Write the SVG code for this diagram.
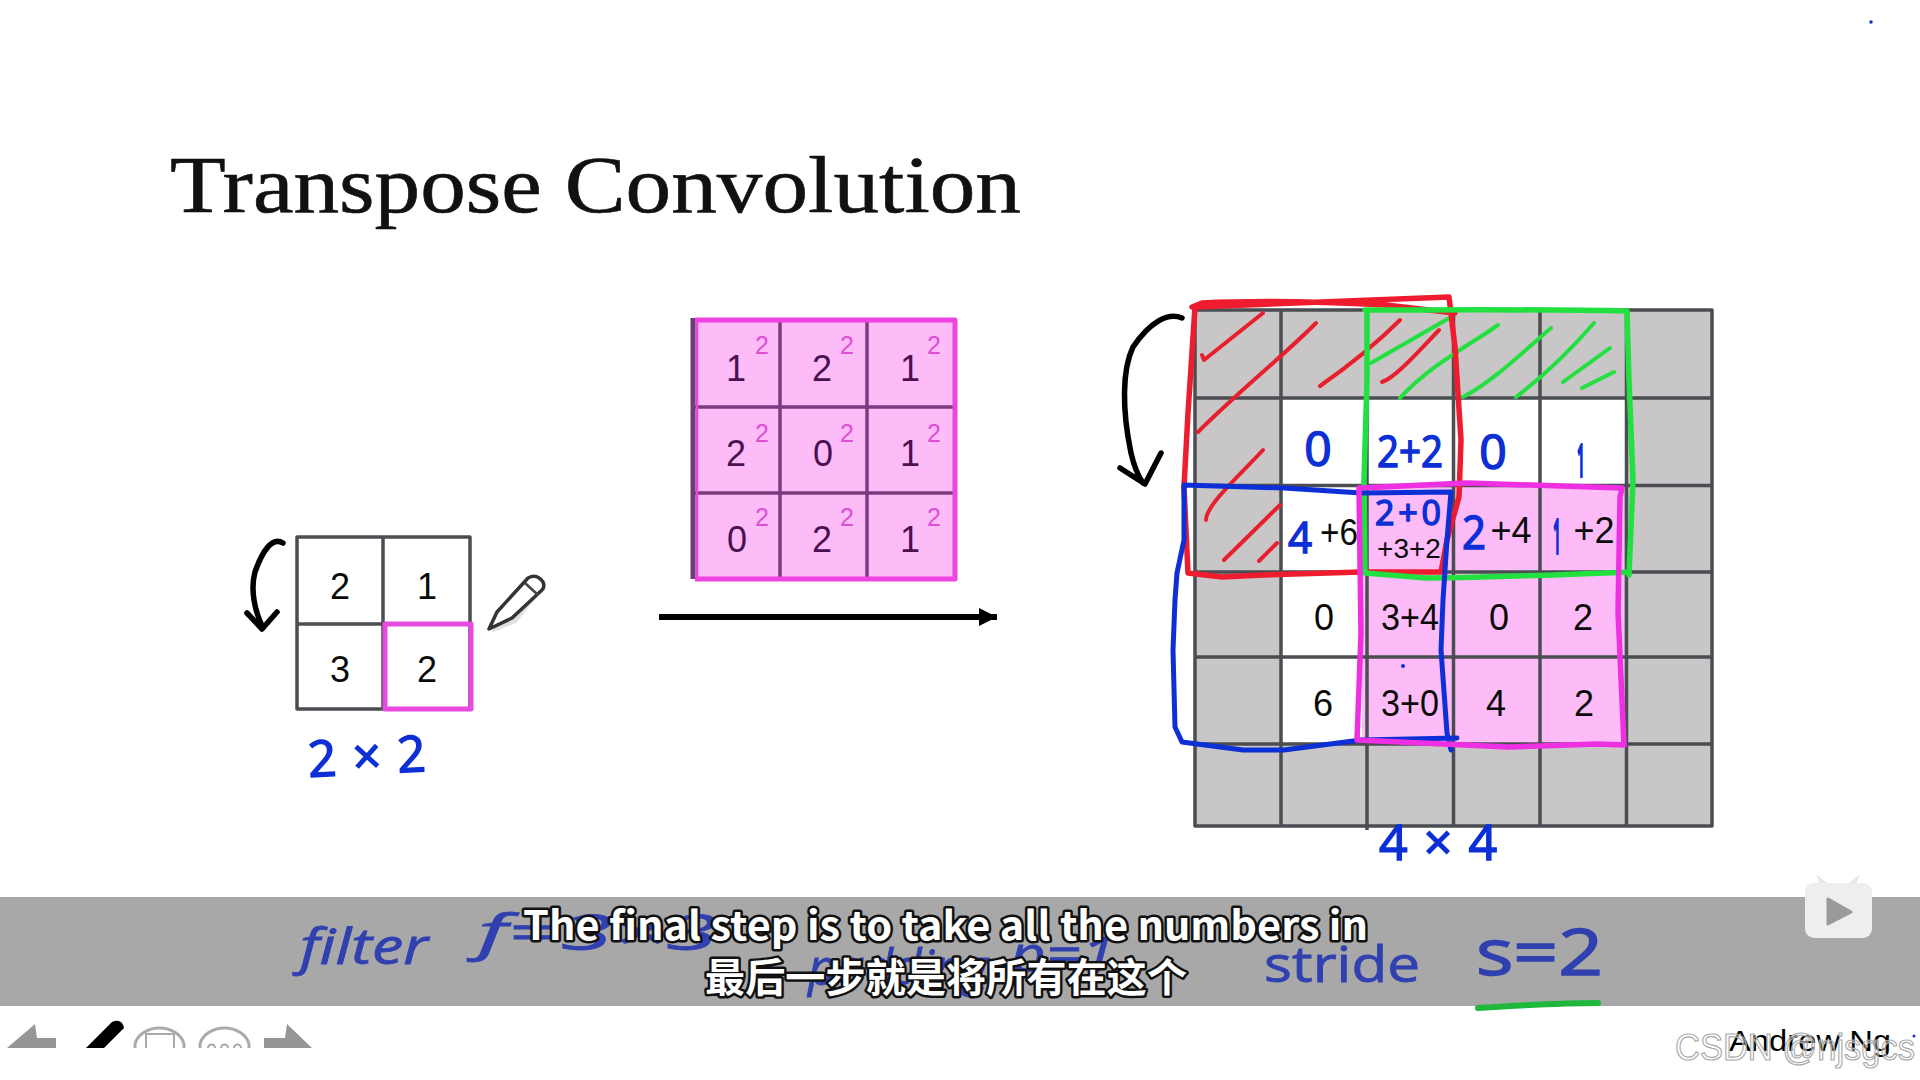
<svg xmlns="http://www.w3.org/2000/svg" width="1920" height="1080" viewBox="0 0 1920 1080">
<defs>
<style>
text{font-family:"Liberation Sans",Arial,sans-serif}
.grid{stroke:#4a4d52;stroke-width:3.5;fill:none;stroke-linejoin:round}
.num{font-size:36px;fill:#0a0a0a;text-anchor:middle}
.mnum{font-size:36px;fill:#4a1050;text-anchor:middle}
.sup{font-size:25px;fill:#dc4fd6;text-anchor:middle}
.hw{font-family:"Open Sans","DejaVu Sans",sans-serif;fill:#0c2fd6;stroke:#0c2fd6;stroke-width:1.5;text-anchor:middle}
.hw1{stroke-width:4}
.dim{font-family:"Open Sans","DejaVu Sans",sans-serif;fill:#3040b0;stroke:#3040b0;stroke-width:.8;font-size:50px;font-style:italic}
.ink{fill:none;stroke-linecap:round;stroke-linejoin:round}
.red{stroke:#ee1c2e;stroke-width:5.5}
.redh{stroke:#e8202e;stroke-width:4}
.grn{stroke:#22e040;stroke-width:5.5}
.grnh{stroke:#22e040;stroke-width:4}
.blu{stroke:#0c2fd6;stroke-width:5}
.mag{stroke:#ee2fe2;stroke-width:5.5}
.blk{stroke:#000;stroke-width:5.5}
.sub{font-family:"Noto Sans CJK SC","Noto Sans",sans-serif;font-weight:700;fill:#fff;stroke:#111;stroke-width:5;paint-order:stroke;stroke-linejoin:round}
.tool{fill:#969696}
</style>
<marker id="ah" markerUnits="userSpaceOnUse" markerWidth="20" markerHeight="20" refX="18" refY="9" orient="auto"><path d="M0 0L18 9L0 18Z" fill="#000"/></marker>
</defs>
<rect width="1920" height="1080" fill="#fff"/>
<text id="title" x="170" y="212" font-size="80" textLength="851" lengthAdjust="spacingAndGlyphs" style="font-family:'Liberation Serif',serif" fill="#111" stroke="#111" stroke-width=".6">Transpose Convolution</text>

<g id="input-grid">
<rect x="297" y="537" width="173" height="172" class="grid" fill="#fff"/>
<path class="grid" d="M383 537V709M297 624H470"/>
<text class="num" x="340" y="599">2</text><text class="num" x="427" y="599">1</text>
<text class="num" x="340" y="682">3</text><text class="num" x="427" y="682">2</text>
<rect x="385" y="624" width="86" height="85" fill="none" stroke="#e84ae0" stroke-width="5" stroke-linejoin="round"/>
</g>
<g id="input-label"><text class="hw" font-size="50" x="367" y="774" textLength="118" lengthAdjust="spacing" transform="rotate(-3 367 760)">2×2</text></g>
<g id="pencil">
<path d="M491 633L500 617L531 583L546 586L516 623Z" fill="#000" opacity=".12"/>
<path d="M489 629L497 612L528 578Q537 573 543 582Q545 587 542 590L512 618Z" fill="#fff" stroke="#333" stroke-width="3.500" stroke-linejoin="round"/>
<path d="M525 583L538 595" stroke="#444" stroke-width="2.500"/>
</g>

<g id="filter-grid">
<rect x="693" y="318" width="262" height="261" fill="#fdbcf8"/>
<path d="M780 318V579M867 318V579M693 407H955M693 493H955" stroke="#7d3a80" stroke-width="3.500" fill="none"/>
<path d="M693 318V579" stroke="#6a4070" stroke-width="5"/>
<path d="M695 320H955V579H695" fill="none" stroke="#ee44e0" stroke-width="5" stroke-linejoin="round"/>
<path d="M697 318V579" stroke="#ee44e0" stroke-width="2.500"/>
<text class="mnum" x="736" y="381">1</text><text class="mnum" x="822" y="381">2</text><text class="mnum" x="910" y="381">1</text>
<text class="mnum" x="736" y="466">2</text><text class="mnum" x="823" y="466">0</text><text class="mnum" x="910" y="466">1</text>
<text class="mnum" x="737" y="552">0</text><text class="mnum" x="822" y="552">2</text><text class="mnum" x="910" y="552">1</text>
<text class="sup" x="762" y="354">2</text><text class="sup" x="847" y="354">2</text><text class="sup" x="934" y="354">2</text>
<text class="sup" x="762" y="442">2</text><text class="sup" x="847" y="442">2</text><text class="sup" x="934" y="442">2</text>
<text class="sup" x="762" y="526">2</text><text class="sup" x="847" y="526">2</text><text class="sup" x="934" y="526">2</text>
</g>

<g id="output-grid">
<rect x="1195" y="310" width="517" height="516" fill="#c8c6c6"/>
<path fill="#fff" d="M1281 398H1627V486H1367V744H1281Z"/>
<rect x="1362" y="487" width="262" height="257" fill="#fdbcf8"/>
<rect x="1195" y="310" width="517" height="516" class="grid"/>
<path class="grid" d="M1281 310V826M1367 310V830M1453.500 310V826M1540 310V826M1626.500 310V826M1195 398H1712M1195 485.500H1712M1195 572H1712M1195 657H1712M1195 744H1712"/>
<g>
<text class="num" x="1339" y="545" textLength="38" lengthAdjust="spacingAndGlyphs">+6</text>
<text class="num" x="1409" y="558" style="font-size:28px">+3+2</text>
<text class="num" x="1511" y="543">+4</text>
<text class="num" x="1594" y="543">+2</text>
<text class="num" x="1324" y="630">0</text><text class="num" x="1410" y="630" textLength="58" lengthAdjust="spacingAndGlyphs">3+4</text><text class="num" x="1499" y="630">0</text><text class="num" x="1583" y="630">2</text>
<text class="num" x="1323" y="716">6</text><text class="num" x="1410" y="716" textLength="58" lengthAdjust="spacingAndGlyphs">3+0</text><text class="num" x="1496" y="716">4</text><text class="num" x="1584" y="716">2</text>
</g>
</g>

<g id="output-label"><text class="hw" font-size="50" x="1438" y="860" textLength="118" lengthAdjust="spacing">4×4</text></g>

<g id="connectors">
<path d="M659 617H997" stroke="#000" stroke-width="6" marker-end="url(#ah)" fill="none"/>
<path class="ink blk" d="M283 543C272 536 262 552 255 572C250 590 255 612 263 628M247 613L262 629L277 612"/>
<path class="ink blk" d="M1182 318C1168 312 1150 322 1133 347C1122 370 1122 410 1131 453C1134 466 1138 476 1143 483M1120 468L1145 484L1161 453"/>
</g>

<g id="hatches">
<path class="ink redh" d="M1202 355L1204 360L1263 313M1198 432C1240 390 1290 350 1316 323M1320 386C1350 365 1380 340 1400 320M1382 382C1395 378 1420 350 1439 330M1206 520C1206 505 1240 475 1263 450M1224 560L1280 505M1259 561L1277 543"/>
<path class="ink grnh" d="M1371 363L1451 317M1400 398C1430 365 1470 345 1498 325M1463 397C1495 380 1525 350 1551 328M1516 397C1545 375 1575 345 1594 323M1563 382L1610 348M1582 388L1614 372"/>
</g>
<g id="frame-red"><path class="ink red" d="M1192 307L1202 303C1260 300 1330 302 1386 305L1455 313M1449 297L1455 347L1461 440L1459 497L1447 540L1441 572L1361 572L1263 575L1222 577L1188 573L1184 487L1188 413L1195 307Z"/></g>
<g id="frame-green"><path class="ink grn" d="M1365 310C1450 310 1540 309 1627 311L1629 380L1633 480L1629 575M1629 572C1580 574 1508 577 1426 578L1365 573L1364 480L1367 380L1367 310"/></g>
<g id="frame-blue"><path class="ink blu" d="M1184 485L1284 488L1361 493L1451 492L1447 540L1443 600L1441 650L1447 733L1451 750M1457 738L1361 740L1284 750L1243 750L1182 742L1175 727L1173 650L1175 600L1177 573L1184 540L1184 485"/><circle cx="1403" cy="666" r="2" fill="#0c2fd6"/></g>
<g id="frame-magenta"><path class="ink mag" d="M1359 488L1467 483L1622 488L1620 497L1618 613L1619 633L1624 745L1598 744L1508 747L1357 740L1361 633L1359 488Z"/></g>

<g id="handwritten">
<text class="hw" font-size="48" x="1318" y="466">0</text>
<text class="hw" font-size="44" x="1410" y="467" textLength="66" lengthAdjust="spacingAndGlyphs">2+2</text>
<text class="hw" font-size="48" x="1493" y="469">0</text>
<text class="hw hw1" font-size="44" x="1581" y="476" textLength="8" lengthAdjust="spacingAndGlyphs">1</text>
<text class="hw" font-size="44" x="1300" y="553" textLength="24" lengthAdjust="spacingAndGlyphs">4</text>
<text class="hw" font-size="34" x="1408" y="525" textLength="66" lengthAdjust="spacing">2+0</text>
<text class="hw" font-size="46" x="1474" y="549" textLength="24" lengthAdjust="spacingAndGlyphs">2</text>
<text class="hw hw1" font-size="46" x="1557" y="553" textLength="8" lengthAdjust="spacingAndGlyphs">1</text>
</g>

<g id="band"><rect y="897" width="1920" height="109" fill="#a8a8a8"/></g>
<g id="notes">
<text class="dim" x="300" y="964" textLength="128" lengthAdjust="spacingAndGlyphs">filter</text>
<text class="dim" x="478" y="950" textLength="240" lengthAdjust="spacingAndGlyphs">f=3×3</text>
<text class="dim" x="808" y="985" textLength="180" lengthAdjust="spacingAndGlyphs">padding</text>
<text class="dim" x="1010" y="972" textLength="105" lengthAdjust="spacingAndGlyphs">p=1</text>
<text class="dim" x="1264" y="982" textLength="156" lengthAdjust="spacingAndGlyphs" style="font-style:normal">stride</text>
<text class="dim" x="1476" y="975" textLength="127" lengthAdjust="spacingAndGlyphs" style="font-style:normal;font-size:64px;stroke-width:1.500">s=2</text>
<path class="ink" stroke="#1fb83c" stroke-width="6" d="M1478 1008C1510 1006 1560 1003 1598 1003"/>
</g>
<g id="subtitles">
<text class="sub" x="523" y="940" font-size="40" textLength="845" lengthAdjust="spacingAndGlyphs">The final step is to take all the numbers in</text>
<text class="sub" x="705" y="992" font-size="40" textLength="482">最后一步就是将所有在这个</text>
</g>
<g id="play">
<path d="M1820 884L1816 874L1828 884ZM1856 884L1860 874L1848 884Z" fill="#e6e6e6"/>
<rect x="1805" y="883" width="67" height="55" rx="9" fill="#eee"/>
<path d="M1828 899L1851 912L1828 924Z" fill="#9a9a9a" stroke="#9a9a9a" stroke-width="3" stroke-linejoin="round"/>
</g>
<g id="toolbar">
<path class="tool" d="M7 1048L35 1024L37 1038H56V1048Z"/>
<path d="M86 1048L112 1022Q122 1018 124 1028L104 1048Z" fill="#000"/>
<path d="M135 1048V1044A25 20 0 0 1 184 1044V1048" fill="none" stroke="#aaa" stroke-width="3"/>
<path d="M146 1048V1034H174V1048" fill="none" stroke="#aaa" stroke-width="2"/>
<path d="M200 1048V1044A25 20 0 0 1 249 1044V1048" fill="none" stroke="#aaa" stroke-width="3"/>
<path d="M208 1048a3 3 0 0 1 7 0M221 1048a3 3 0 0 1 7 0M234 1048a3 3 0 0 1 7 0" fill="none" stroke="#aaa" stroke-width="2"/>
<path class="tool" d="M264 1048V1038H285L287 1024L312 1048Z"/>
</g>
<text id="credit" x="1729" y="1051" font-size="30" textLength="162" lengthAdjust="spacingAndGlyphs" fill="#000">Andrew Ng</text>
<text id="watermark" x="1675" y="1060" font-size="37" textLength="240" lengthAdjust="spacingAndGlyphs" fill="#fff" fill-opacity=".35" stroke="#aaa" stroke-width="1.200">CSDN @njsgcs</text>
<circle cx="1871" cy="22" r="1.800" fill="#1a2fc0"/>
<circle cx="1914" cy="1036" r="1.500" fill="#1a2fc0"/>
</svg>
